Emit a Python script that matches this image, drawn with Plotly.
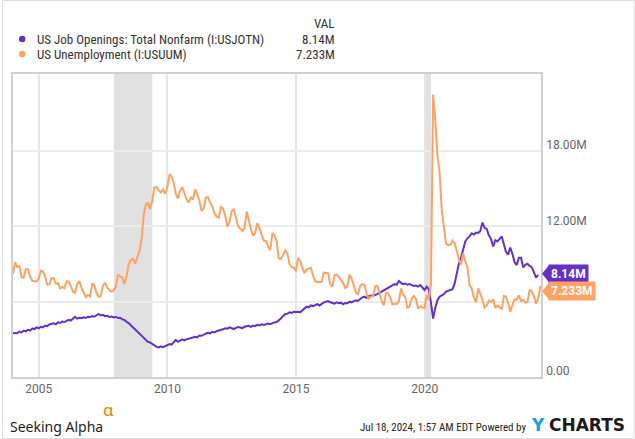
import pandas as pd
import plotly.graph_objects as go

# ---------------- data (millions, monthly, Dec 2003 onward) ----------------
job_openings = [
    3.50,
    3.52, 3.48, 3.62, 3.55, 3.70, 3.64, 3.76, 3.70, 3.86, 3.82, 3.95, 3.88,   # 2004
    4.00, 3.95, 4.10, 4.05, 4.18, 4.22, 4.28, 4.20, 4.35, 4.30, 4.42, 4.38,   # 2005
    4.45, 4.55, 4.50, 4.62, 4.80, 4.65, 4.72, 4.68, 4.75, 4.70, 4.80, 4.78,   # 2006
    4.85, 4.80, 4.95, 5.02, 4.90, 4.95, 4.85, 4.88, 4.78, 4.82, 4.75, 4.80,   # 2007
    4.70, 4.72, 4.60, 4.55, 4.40, 4.30, 4.12, 3.95, 3.80, 3.62, 3.48, 3.25,   # 2008
    3.10, 2.95, 2.80, 2.75, 2.62, 2.50, 2.40, 2.36, 2.45, 2.38, 2.48, 2.55,   # 2009
    2.62, 2.58, 2.75, 2.95, 2.80, 2.90, 3.00, 2.92, 3.02, 3.05, 3.12, 3.18,   # 2010
    3.20, 3.15, 3.30, 3.28, 3.40, 3.45, 3.52, 3.48, 3.60, 3.55, 3.65, 3.70,   # 2011
    3.72, 3.80, 3.88, 3.85, 3.95, 3.90, 3.82, 3.92, 3.98, 3.95, 3.90, 4.00,   # 2012
    4.02, 4.08, 4.00, 4.10, 4.05, 4.15, 4.12, 4.20, 4.15, 4.18, 4.25, 4.20,   # 2013
    4.30, 4.35, 4.38, 4.50, 4.65, 4.85, 5.00, 5.05, 5.15, 5.10, 5.20, 5.18,   # 2014
    5.20, 5.15, 5.30, 5.50, 5.60, 5.55, 5.70, 5.65, 5.75, 5.80, 5.70, 5.85,   # 2015
    5.95, 6.00, 6.05, 5.95, 5.90, 5.85, 5.95, 5.88, 5.92, 5.80, 5.90, 5.88,   # 2016
    6.00, 5.95, 6.05, 6.10, 6.08, 6.20, 6.35, 6.40, 6.30, 6.45, 6.50, 6.48,   # 2017
    6.53, 6.60, 6.70, 6.80, 6.92, 7.00, 7.10, 7.20, 7.33, 7.40, 7.35, 7.65,   # 2018
    7.50, 7.40, 7.45, 7.35, 7.40, 7.30, 7.25, 7.28, 7.20, 7.33, 7.10, 6.93,   # 2019
    7.20, 7.00, 5.90, 4.65, 5.50, 6.10, 6.40, 6.50, 6.60, 6.80, 6.85, 6.95,   # 2020
    7.00, 7.40, 8.20, 9.00, 9.50, 10.20, 10.80, 11.05, 11.20, 11.45, 11.35, 11.50,  # 2021
    11.50, 11.60, 12.30, 11.90, 11.80, 11.30, 11.00, 10.40, 10.90, 10.80, 11.00, 11.20,  # 2022
    10.56, 9.97, 9.75, 10.32, 9.82, 9.16, 8.92, 9.50, 9.50, 8.73, 8.93, 9.02,  # 2023
    8.85, 8.75, 8.36, 7.92, 8.14,                                              # 2024
]

unemployment = [
    8.20,
    9.14, 8.77, 8.83, 7.99, 7.91, 8.60, 8.58, 7.99, 7.66, 7.63, 7.61, 7.84,   # 2004
    8.46, 8.42, 8.04, 7.36, 7.38, 7.85, 7.88, 7.43, 7.47, 7.06, 7.18, 7.07,   # 2005
    7.63, 7.59, 7.26, 6.81, 6.70, 7.39, 7.64, 7.10, 6.66, 6.37, 6.54, 6.43,   # 2006
    7.47, 7.27, 6.71, 6.39, 6.45, 7.26, 7.51, 7.13, 6.92, 6.81, 6.90, 7.18,   # 2007
    8.18, 8.00, 7.95, 7.41, 8.05, 8.96, 9.34, 9.42, 9.04, 9.56, 10.03, 10.99,  # 2008
    12.99, 13.70, 13.90, 13.39, 14.04, 15.10, 15.15, 14.84, 14.69, 14.94, 14.60, 15.10,  # 2009
    16.15, 15.99, 15.52, 14.59, 14.22, 14.83, 15.13, 14.63, 14.14, 13.90, 14.31, 14.14,  # 2010
    14.94, 14.54, 14.06, 13.24, 13.42, 14.31, 14.33, 13.90, 13.60, 13.06, 12.77, 12.69,  # 2011
    13.54, 13.41, 12.89, 11.98, 12.32, 13.20, 13.36, 12.74, 11.99, 11.82, 11.64, 11.84,  # 2012
    13.18, 12.50, 11.82, 11.24, 11.47, 12.25, 11.84, 11.38, 10.87, 10.84, 10.39, 10.10,  # 2013
    11.46, 11.30, 10.84, 9.46, 9.40, 9.71, 10.09, 9.87, 9.01, 8.73, 8.73, 8.42,  # 2014
    9.50, 9.24, 8.79, 8.27, 8.56, 8.65, 8.70, 8.08, 7.65, 7.55, 7.55, 7.58,   # 2015
    8.31, 8.29, 8.28, 7.42, 7.18, 8.10, 8.16, 7.98, 7.74, 7.48, 7.09, 7.24,   # 2016
    8.15, 7.85, 7.31, 6.71, 6.62, 7.28, 7.40, 7.33, 6.60, 6.24, 6.41, 6.43,   # 2017
    7.25, 7.26, 6.75, 6.04, 5.71, 6.72, 6.67, 6.34, 5.80, 5.86, 5.81, 6.04,   # 2018
    7.05, 6.57, 6.38, 5.54, 5.62, 6.23, 6.46, 6.22, 5.46, 5.62, 5.54, 5.50,   # 2019
    6.51, 6.19, 7.37, 22.50, 20.50, 17.70, 16.34, 13.30, 12.00, 10.60, 10.50, 10.55,  # 2020
    10.87, 10.67, 10.07, 9.39, 8.95, 9.85, 9.21, 8.71, 7.32, 7.05, 6.33, 5.95,  # 2021
    7.06, 6.64, 6.17, 5.53, 5.70, 6.08, 6.00, 6.16, 5.51, 5.71, 5.58, 5.41,   # 2022
    6.45, 6.41, 5.87, 5.19, 5.72, 6.18, 6.16, 6.51, 6.05, 6.15, 5.91, 5.98,   # 2023
    6.96, 6.80, 6.48, 5.84, 6.27, 7.233,                                      # 2024
]

series_names = ["US Job Openings: Total Nonfarm (I:USJOTN)", "US Unemployment (I:USUUM)"]
series_colors = ["#6331c8", "#ffa264"]
start_month = "2004-01-01"
recessions = [("2007-12-01", "2009-06-01"), ("2020-01-01", "2020-03-31")]
y_tickvals = [0, 6, 12, 18]
y_ticktext = ["0.00", "", "12.00M", "18.00M"]
x_tickvals = ["2005-01-01", "2010-01-01", "2015-01-01", "2020-01-01"]
x_ticktext = ["2005", "2010", "2015", "2020"]
x_range = ["2004-01-01", "2024-07-10"]
y_max = 24.14

# ---------------- layout geometry ----------------
W, H = 635, 439
L, R, T, B = 11, 94, 74, 62
PW, PH = W - L - R, H - T - B


def xp(px):
    return (px - L) / PW


def yp(py):
    return (H - B - py) / PH


def month_ends(n):
    return pd.date_range(start=start_month, periods=n, freq="MS") - pd.Timedelta(days=1)


fig = go.Figure()
for name, vals, col in zip(series_names, [job_openings, unemployment], series_colors):
    fig.add_trace(go.Scatter(
        x=month_ends(len(vals)), y=vals, mode="lines", name=name,
        line=dict(color=col, width=2), hoverinfo="skip", showlegend=False,
    ))

shapes = []
for a, b in recessions:
    shapes.append(dict(type="rect", xref="x", yref="paper", x0=a, x1=b, y0=0, y1=1,
                       fillcolor="#e1e1e1", line=dict(width=0), layer="below"))

# outer border
shapes.append(dict(type="rect", xref="paper", yref="paper",
                   x0=xp(0.5), x1=xp(W - 0.5), y0=yp(H - 0.5), y1=yp(0.5),
                   line=dict(color="#dedede", width=1)))

annotations = []
font_narrow = "Liberation Sans Narrow, Roboto Condensed, Roboto, sans-serif"

# legend-like header
annotations.append(dict(xref="paper", yref="paper", x=xp(336), y=yp(23), xanchor="right",
                        yanchor="middle", text="VAL", showarrow=False,
                        font=dict(family=font_narrow, size=13, color="#333333")))
rows_y = [39, 54]
for name, vals, col, ry in zip(series_names, [job_openings, unemployment], series_colors, rows_y):
    shapes.append(dict(type="circle", xref="paper", yref="paper",
                       x0=xp(17), x1=xp(23.5), y0=yp(ry + 3.2), y1=yp(ry - 3.2),
                       fillcolor=col, line=dict(width=0)))
    annotations.append(dict(xref="paper", yref="paper", x=xp(33), y=yp(ry), xanchor="left",
                            yanchor="middle", text=name, showarrow=False,
                            font=dict(family=font_narrow, size=13, color="#333333")))
    annotations.append(dict(xref="paper", yref="paper", x=xp(336), y=yp(ry), xanchor="right",
                            yanchor="middle", text=f"{vals[-1]:g}M", showarrow=False,
                            font=dict(family=font_narrow, size=13, color="#333333")))

# end-value flags
flag_shift = [1, -5]
for vals, col, sh in zip([job_openings, unemployment], series_colors, flag_shift):
    yv = vals[-1] / y_max
    shapes.append(dict(type="path", xref="paper", yref="paper",
                       xsizemode="pixel", ysizemode="pixel", xanchor=1, yanchor=yv,
                       path=f"M1,{sh} L8,{sh + 8.5} L8,{sh - 8.5} Z",
                       fillcolor=col, line=dict(width=0)))
    annotations.append(dict(xref="paper", yref="paper", x=1 + 7 / PW, y=yv, yshift=sh,
                            xanchor="left", yanchor="middle", text=f"<b>{vals[-1]:g}M</b>",
                            showarrow=False, bgcolor=col, borderpad=2,
                            font=dict(family="Roboto, sans-serif", size=12, color="white")))

# footer
annotations.append(dict(xref="paper", yref="paper", x=xp(6), y=yp(426), xanchor="left",
                        yanchor="middle", text="Seeking Alpha", showarrow=False,
                        font=dict(family="Noto Sans, sans-serif", size=14, color="#1e1e1e")))
annotations.append(dict(xref="paper", yref="paper", x=xp(99), y=yp(409), xanchor="left",
                        yanchor="middle", text="α", showarrow=False,
                        font=dict(family="Noto Sans, sans-serif", size=17, color="#ff7a00")))
annotations.append(dict(xref="paper", yref="paper", x=xp(528), y=yp(427), xanchor="right",
                        yanchor="middle", text="Jul 18, 2024, 1:57 AM EDT Powered by",
                        showarrow=False,
                        font=dict(family=font_narrow, size=11, color="#222222")))
annotations.append(dict(xref="paper", yref="paper", x=xp(529), y=yp(425), xanchor="left",
                        yanchor="middle", text="<b>Y</b>", showarrow=False,
                        font=dict(family="DejaVu Sans, sans-serif", size=17, color="#1a9be6")))
annotations.append(dict(xref="paper", yref="paper", x=xp(627), y=yp(425), xanchor="right",
                        yanchor="middle", text="<b>CHARTS</b>", showarrow=False,
                        font=dict(family="DejaVu Sans, sans-serif", size=17, color="#1b1b1b")))

fig.update_layout(
    width=W, height=H, margin=dict(l=L, r=R, t=T, b=B),
    paper_bgcolor="white", plot_bgcolor="white",
    shapes=shapes, annotations=annotations, showlegend=False,
    font=dict(family="Roboto, sans-serif"),
)
fig.update_xaxes(
    type="date", range=x_range, tickvals=x_tickvals, ticktext=x_ticktext,
    showgrid=True, gridcolor="#e6e6e6", gridwidth=1.5, zeroline=False,
    showline=True, linecolor="#d0d0d0", linewidth=1.5, mirror=True, ticks="",
    tickfont=dict(family="Roboto, sans-serif", size=12, color="#666666"),
)
fig.update_yaxes(
    side="right", range=[0, y_max], tickvals=y_tickvals, ticktext=y_ticktext,
    showgrid=True, gridcolor="#ececec", gridwidth=2, zeroline=False,
    showline=True, linecolor="#d0d0d0", linewidth=1.5, mirror=True, ticks="",
    ticklabelshift=-6, ticklabelstandoff=1,
    tickfont=dict(family="Roboto, sans-serif", size=12, color="#666666"),
)

fig.write_html("out.html")
